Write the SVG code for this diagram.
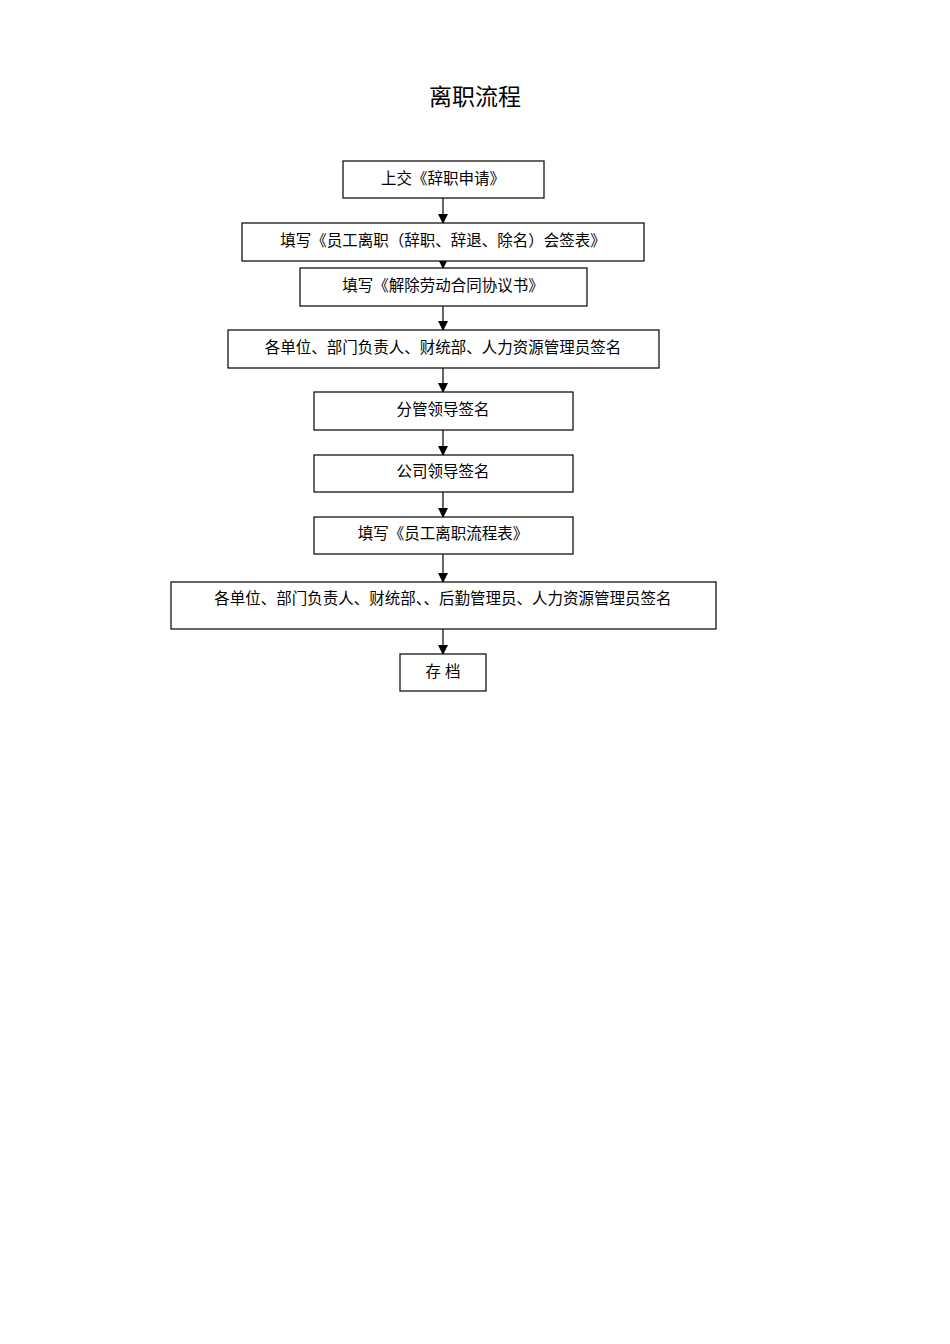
<svg xmlns="http://www.w3.org/2000/svg" width="950" height="1344" viewBox="0 0 950 1344">
<style>
rect{fill:#fff;stroke:#000;stroke-width:1.2}
text{font-family:"Liberation Serif","Noto Sans CJK SC",serif;font-size:15.5px;text-anchor:middle;fill:#000}
.t{font-size:23px}
line{stroke:#000;stroke-width:1.2}
</style>
<defs><marker id="a" markerWidth="10" markerHeight="10" refX="9" refY="5" orient="auto" markerUnits="userSpaceOnUse"><path d="M0,0L10,5L0,10Z" fill="#000"/></marker></defs>
<rect width="950" height="1344" style="stroke:none"/>
<text class="t" x="475" y="105">离职流程</text>
<g id="connectors">
<line x1="443" y1="198" x2="443" y2="223" marker-end="url(#a)"/>
<line x1="443" y1="248" x2="443" y2="268" marker-end="url(#a)"/>
<line x1="443" y1="306" x2="443" y2="330" marker-end="url(#a)"/>
<line x1="443" y1="368" x2="443" y2="392" marker-end="url(#a)"/>
<line x1="443" y1="430" x2="443" y2="455" marker-end="url(#a)"/>
<line x1="443" y1="492" x2="443" y2="517" marker-end="url(#a)"/>
<line x1="443" y1="554" x2="443" y2="582" marker-end="url(#a)"/>
<line x1="443" y1="629" x2="443" y2="654" marker-end="url(#a)"/>
</g>
<g id="n1"><rect x="343" y="161" width="201" height="37"/><text x="443" y="184">上交《辞职申请》</text></g>
<g id="n2"><rect x="242" y="223" width="402" height="38"/><text x="443" y="246">填写《员工离职（辞职、辞退、除名）会签表》</text></g>
<g id="n3"><rect x="300" y="268" width="287" height="38"/><text x="443" y="291">填写《解除劳动合同协议书》</text></g>
<g id="n4"><rect x="228" y="330" width="431" height="38"/><text x="443" y="353">各单位、部门负责人、财统部、人力资源管理员签名</text></g>
<g id="n5"><rect x="314" y="392" width="259" height="38"/><text x="443" y="415">分管领导签名</text></g>
<g id="n6"><rect x="314" y="455" width="259" height="37"/><text x="443" y="477">公司领导签名</text></g>
<g id="n7"><rect x="314" y="517" width="259" height="37"/><text x="443" y="539">填写《员工离职流程表》</text></g>
<g id="n8"><rect x="171" y="582" width="545" height="47"/><text x="443" y="604">各单位、部门负责人、财统部、、后勤管理员、人力资源管理员签名</text></g>
<g id="n9"><rect x="400" y="654" width="86" height="37"/><text x="443" y="677">存  档</text></g>
</svg>
